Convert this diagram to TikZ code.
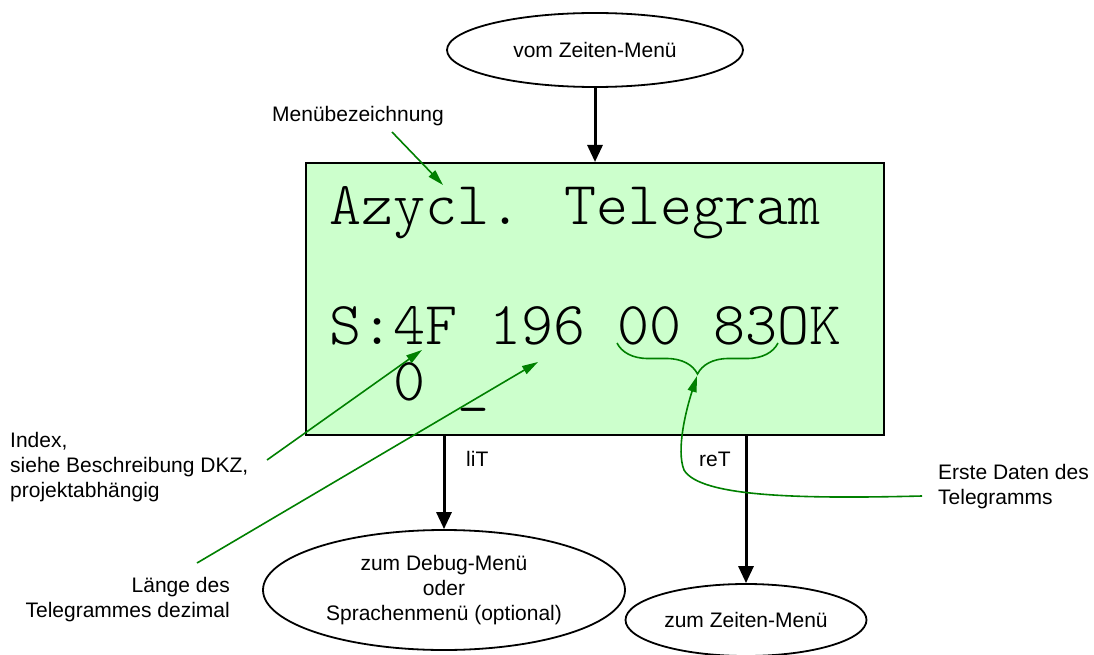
\documentclass[tikz,border=0pt]{standalone}
\usepackage{fontspec}
\setmainfont{Liberation Sans}
\newfontfamily\lcdfont{Latin Modern Mono Light}
\usetikzlibrary{arrows.meta,shapes.geometric,decorations.pathreplacing}
\definecolor{lcdgreen}{HTML}{CCFFCC}
\definecolor{notegreen}{HTML}{008000}
\begin{document}
\begin{tikzpicture}[x=1pt,y=-1pt,
  lbl/.style={font=\fontsize{21}{25}\selectfont, inner sep=0pt},
  menu/.style={ellipse, draw, line width=1.8pt, inner sep=0pt, lbl, align=center},
  flow/.style={line width=3pt, -{Triangle[length=17pt,width=15pt]}},
  note/.style={draw=notegreen, line width=1.6pt, -{Triangle[length=16pt,width=9pt]}},
  lcdtext/.style={font=\lcdfont\fontsize{61}{70}\selectfont, inner sep=0pt, anchor=base west}]
  \fill[white] (0,0) rectangle (1094,655);
  \useasboundingbox (0,0) rectangle (1094,655);

  % display panel and its three text rows
  \node[draw, line width=2pt, fill=lcdgreen, minimum width=578pt, minimum height=272pt, inner sep=0pt] (lcd) at (595,299) {};
  \node[lcdtext] (row1) at (329,224) {Azycl. Telegram};
  \node[lcdtext] (row2) at (329,344) {S:4F 196 00 83OK};
  \node[lcdtext] (row3) at (329,400) {\phantom{S:}0\phantom{F}\_};

  % menus
  \node[menu, minimum width=296pt, minimum height=74pt] (from) at (595,50) {vom Zeiten-Menü};
  \node[menu, minimum width=362pt, minimum height=120pt] (debug) at (444,590) {zum Debug-Menü\\oder\\Sprachenmenü (optional)};
  \node[menu, minimum width=241pt, minimum height=72pt] (back) at (746,620) {zum Zeiten-Menü};

  % flow between menus
  \draw[flow] (from.south) -- (from.south |- lcd.north);
  \draw[flow] (debug.north |- lcd.south) -- (debug.north);
  \draw[flow] (back.north |- lcd.south) -- (back.north);
  \node[lbl, anchor=base west] (liT) at (466,466) {liT};
  \node[lbl, anchor=base west] (reT) at (699,466) {reT};

  % annotations
  \node[lbl, anchor=base] (mname) at (358,122) {Menübezeichnung};
  \node[lbl, anchor=north west, align=left] (idx) at (10,432) {Index,\\siehe Beschreibung DKZ,\\projektabhängig};
  \node[lbl, anchor=north east, align=right] (len) at (230,577) {Länge des\\Telegrammes dezimal};
  \node[lbl, anchor=north west, align=left] (data) at (938,464) {Erste Daten des\\Telegramms};

  \coordinate (mnameEnd) at (392,132);
  \coordinate (mnameTip) at (443,185);
  \coordinate (idxEnd) at (267,460);
  \coordinate (idxTip) at (422,350);
  \coordinate (lenEnd) at (197,563);
  \coordinate (lenTip) at (538,362);
  \coordinate (braceL) at (617,343);
  \coordinate (braceR) at (778,343);
  \coordinate (dataEnd) at (922,496);
  \coordinate (dataTip) at (697,376);

  \draw[note] (mnameEnd) -- (mnameTip);
  \draw[note] (idxEnd) -- (idxTip);
  \draw[note] (lenEnd) -- (lenTip);
  \draw[notegreen, line width=1.6pt, decorate, decoration={brace, mirror, amplitude=31pt}] (braceL) -- (braceR);
  \draw[note] (dataEnd) .. controls (800,499) and (700,497) .. (684,470)
              .. controls (676,450) and (686,410) .. (dataTip);
\end{tikzpicture}
\end{document}
